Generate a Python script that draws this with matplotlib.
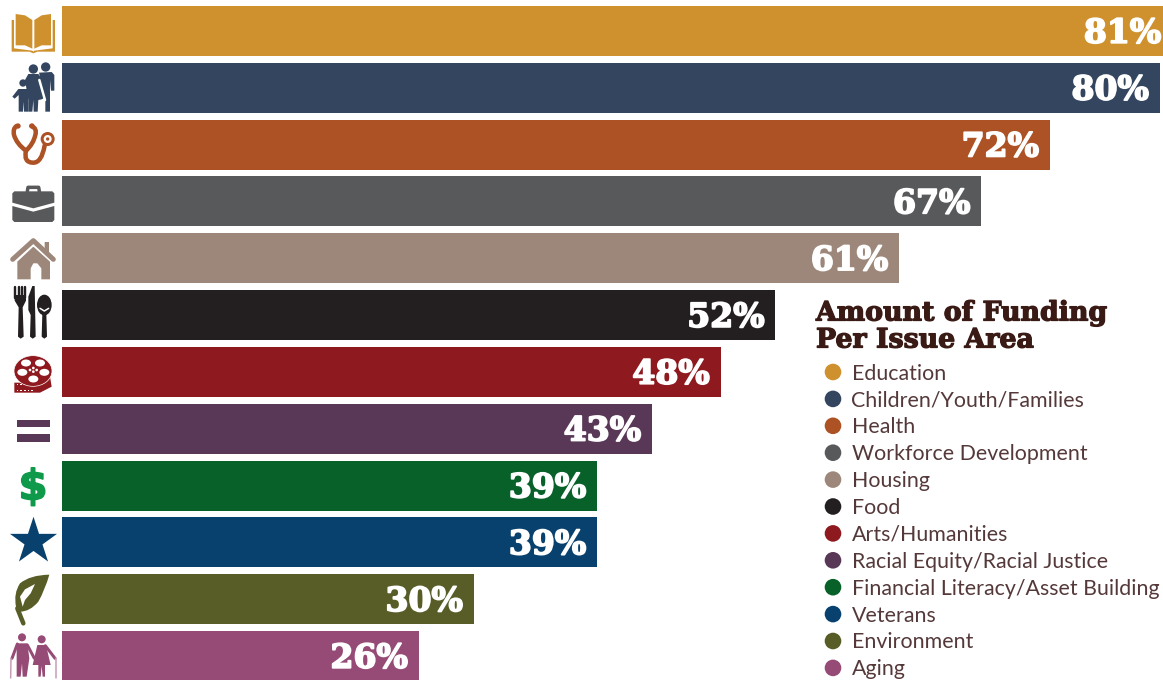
import matplotlib
matplotlib.use("Agg")
import matplotlib.pyplot as plt
import matplotlib.patheffects as pe
from matplotlib.patches import Polygon, Circle, Rectangle, Ellipse, PathPatch
from matplotlib.path import Path

categories = ["Education", "Children/Youth/Families", "Health", "Workforce Development",
              "Housing", "Food", "Arts/Humanities", "Racial Equity/Racial Justice",
              "Financial Literacy/Asset Building", "Veterans", "Environment", "Aging"]
values = [81, 80, 72, 67, 61, 52, 48, 43, 39, 39, 30, 26]
colors = ["#CE912D", "#34465F", "#AC5225", "#58595B", "#9D877A", "#231F20",
          "#8E191E", "#593757", "#076129", "#08416E", "#585C26", "#964A76"]
labels = ["81%", "80%", "72%", "67%", "61%", "52%", "48%", "43%", "39%", "39%", "30%", "26%"]
title_lines = ["Amount of Funding", "Per Issue Area"]

W, H = 1163, 680
TEXT = "#3A1A14"
SLAB = ["DejaVu Serif"]
fig = plt.figure(figsize=(W / 100, H / 100), dpi=100, facecolor="white")

# --- bars -------------------------------------------------------------
ax = fig.add_axes([0, 0, 1, 1])
PX_PER_PCT = 13.72
ROW = 56.82
ax.set_xlim(-62 / PX_PER_PCT, (W - 62) / PX_PER_PCT)
ax.set_ylim((H - 31) / ROW, -31 / ROW)
ax.axis("off")
ax.barh(range(len(values)), values, height=50 / ROW, color=colors)
for i, (v, lab) in enumerate(zip(values, labels)):
    x = min(v, 80.9) - 0.8
    t = ax.text(x, i + 0.04, lab, ha="right", va="center", color="white", fontsize=23.8,
                fontweight="bold", family=SLAB)
    t.set_path_effects([pe.withStroke(linewidth=1.3, foreground="white")])

# --- pixel overlay for icons and legend -------------------------------
ov = fig.add_axes([0, 0, 1, 1], facecolor="none")
ov.set_xlim(0, W)
ov.set_ylim(H, 0)
ov.axis("off")

for yy, line in zip((313, 340), title_lines):
    t = ov.text(816, yy, line, fontsize=19.3, fontweight="bold", family=SLAB, color=TEXT, va="center", ha="left")
    t.set_path_effects([pe.withStroke(linewidth=0.9, foreground=TEXT)])
for i, (c, col) in enumerate(zip(categories, colors)):
    y = 372 + i * 26.9
    ov.add_patch(Circle((833, y), 8.3, color=col, lw=0))
    ov.text(851.5, y + 1.5, c, fontsize=15.4, family="Lato", color="#55393A", va="center", ha="left")


def P(pts, col, ox=0, oy=0, **kw):
    ov.add_patch(Polygon([(x / 3 + ox, y / 3 + oy) for x, y in pts], closed=True, fc=col, lw=0, **kw))


def C(x, y, r, col, ox=0, oy=0):
    ov.add_patch(Circle((x / 3 + ox, y / 3 + oy), r / 3, fc=col, lw=0))


def L(pts, col, lw, ox=0, oy=0, cap="round"):
    xs = [p[0] / 3 + ox for p in pts]
    ys = [p[1] / 3 + oy for p in pts]
    ov.plot(xs, ys, color=col, lw=lw * 0.72, solid_capstyle=cap, solid_joinstyle="round")


def curve(verts, codes, col, lw=None, fill=True, ox=0, oy=0):
    pth = Path([(x / 3 + ox, y / 3 + oy) for x, y in verts], codes)
    ov.add_patch(PathPatch(pth, fc=col if fill else "none", ec=col if lw else "none",
                           lw=(lw or 0) * 0.72, capstyle="round"))


M, Q, Z4 = Path.MOVETO, Path.CURVE3, Path.CLOSEPOLY

# book
c = colors[0]
P([(35, 60), (42, 60), (42, 145), (97, 152), (100, 155), (103, 152), (158, 145), (158, 60), (165, 60),
   (165, 155), (112, 155), (100, 160), (88, 155), (35, 155)], c)
P([(47, 42), (75, 46), (97, 60), (97, 146), (75, 136), (47, 136)], c)
P([(153, 42), (125, 46), (103, 60), (103, 146), (125, 136), (153, 136)], c)

# family
c = colors[1]
C(137, 201, 14, c); C(100, 207, 14, c); C(69, 249, 11, c)
P([(117, 218), (155, 216), (163, 225), (163, 272), (153, 272), (150, 240), (150, 335), (136, 335), (136, 300),
   (122, 240)], c)
P([(85, 222), (115, 222), (128, 240), (140, 290), (125, 298), (115, 300), (113, 335), (101, 335), (100, 300),
   (97, 335), (85, 335), (85, 300), (75, 240)], c)
L([(118, 240), (135, 300)], "white", 2.5)
P([(55, 267), (85, 267), (105, 290), (98, 298), (85, 285), (85, 335), (72, 335), (71, 305), (69, 335), (56, 335),
   (56, 285), (44, 296), (37, 290)], c)

# stethoscope
c = colors[2]
curve([(50, 378), (38, 385), (42, 405), (50, 432), (78, 452), (100, 432), (106, 405), (112, 385), (94, 378)],
      [M, Q, Q, Q, Q, Q, Q, Q, Q], c, lw=4.5, fill=False)
curve([(78, 452), (70, 487), (98, 488), (125, 490), (134, 436)], [M, Q, Q, Q, Q], c, lw=4.5, fill=False)
C(54, 378, 8, c); C(96, 378, 8, c)
C(143, 417, 21, c); C(143, 417, 12, "white"); C(143, 417, 5, c)

# briefcase
c = colors[3]
L([(82, 574), (84, 562), (116, 562), (118, 574)], c, 3.5)
P([(43, 574), (157, 574), (163, 580), (163, 608), (100, 625), (37, 608), (37, 580)], c)
P([(37, 618), (100, 635), (163, 618), (163, 660), (157, 666), (43, 666), (37, 660)], c)

# house (zoom origin y=230)
c = colors[4]
oy = 230
L([(38, 88), (100, 32), (160, 88)], c, 5, oy=oy)
P([(134, 36), (147, 36), (147, 75), (134, 65)], c, oy=oy)
P([(100, 50), (150, 95), (150, 148), (124, 148), (124, 115), (112, 100), (100, 100), (92, 115), (92, 148),
   (52, 148), (52, 95)], c, oy=oy)

# cutlery
c = colors[5]
for x in (46, 56, 66, 76):
    L([(x, 172), (x, 205)], c, 2.4, oy=oy)
P([(44, 195), (78, 195), (78, 212), (68, 232), (71, 320), (62, 326), (54, 320), (56, 232), (44, 212)], c, oy=oy)
P([(97, 168), (104, 168), (107, 320), (98, 326), (90, 320), (92, 255), (85, 240), (85, 200)], c, oy=oy)
ov.add_patch(Ellipse((133 / 3, 225 / 3 + oy), 44 / 3, 62 / 3, fc=c, lw=0))
P([(127, 250), (139, 250), (141, 320), (133, 326), (125, 320)], c, oy=oy)
L([(120, 235), (133, 243), (146, 235)], "white", 1.5, oy=oy)

# film reel
c = colors[6]
P([(43, 458), (100, 458), (150, 440), (155, 470), (120, 488), (43, 488)], c, oy=oy)
for x in range(50, 100, 11):
    ov.add_patch(Rectangle((x / 3, 462 / 3 + oy), 5 / 3, 3 / 3, fc="white", lw=0))
    ov.add_patch(Rectangle((x / 3, 480 / 3 + oy), 5 / 3, 3 / 3, fc="white", lw=0))
ov.add_patch(Ellipse((99 / 3, 423 / 3 + oy), 114 / 3, 92 / 3, fc=c, ec="white", lw=0.5))
for x, y in [(67, 427), (100, 447), (133, 427), (120, 399), (78, 399)]:
    ov.add_patch(Ellipse((x / 3, y / 3 + oy), 30 / 3, 21 / 3, fc="white", lw=0))
for x, y in [(100, 414), (90, 420), (110, 420), (100, 425)]:
    C(x, y, 4, "white", oy=oy)

# equals
c = colors[7]
P([(50, 569), (149, 569), (149, 592), (50, 592)], c, oy=oy)
P([(50, 613), (149, 613), (149, 636), (50, 636)], c, oy=oy)

# dollar sign
t = ov.text(33, 487.5, "$", color="#0F9A4B", fontsize=30, fontweight="bold", family="DejaVu Sans", ha="center", va="center")
t.set_path_effects([pe.withStroke(linewidth=1.2, foreground="#0F9A4B")])

# star
ov.scatter([33], [541], marker="*", s=1270, color=colors[9], linewidths=0)

# leaf (zoom origin y=450)
c = colors[10]
oy = 450
curve([(148, 374), (90, 375), (60, 400), (40, 430), (48, 470), (52, 485), (60, 485), (90, 485), (115, 455),
       (135, 420), (148, 374), (148, 374)], [M, Q, Q, Q, Q, Q, Q, Q, Q, Q, Q, Z4], c, oy=oy)
L([(52, 475), (70, 520)], c, 4.5, oy=oy)
P([(105, 402), (92, 430), (75, 450), (68, 470), (60, 440), (75, 418)], "white", oy=oy)

# aging couple
c = colors[11]
C(66, 562, 12, c, oy=oy); C(125, 568, 12, c, oy=oy)
P([(50, 580), (82, 580), (88, 625), (80, 680), (68, 680), (66, 640), (62, 680), (50, 680), (50, 620)], c, oy=oy)
L([(52, 582), (36, 625)], c, 3, oy=oy)
L([(82, 585), (103, 625)], c, 3, oy=oy)
P([(112, 585), (138, 585), (152, 645), (135, 645), (135, 680), (128, 680), (125, 648), (122, 680), (115, 680),
   (115, 645), (98, 645)], c, oy=oy)
L([(136, 587), (165, 625)], c, 3, oy=oy)
L([(33, 625), (32, 684)], "#C79BB5", 1.5, oy=oy)
L([(168, 625), (168, 684)], "#C79BB5", 1.5, oy=oy)

fig.savefig("out.png", dpi=100, facecolor="white")
